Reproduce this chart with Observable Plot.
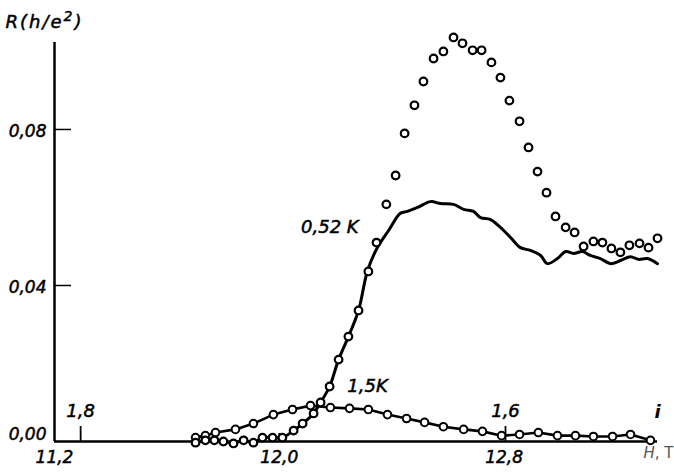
<!DOCTYPE html>
<html>
<head>
<meta charset="utf-8">
<script src="https://cdn.jsdelivr.net/npm/d3@7"></script>
<script src="https://cdn.jsdelivr.net/npm/@observablehq/plot@0.6"></script>
<style>
  html, body { margin: 0; padding: 0; background: #fff; }
  g.bold-ish text { stroke: #000; stroke-width: 0.5px; }
</style>
</head>
<body>
<div id="chart"></div>
<script>
// 0.52 K — open circles
const circlesLowH = [11.702,11.737,11.769,11.801,11.837,11.873,11.908,11.940,11.976,12.011,12.051,12.083,12.122,12.147,12.179,12.211,12.246,12.282,12.317,12.346,12.381,12.414,12.446,12.481,12.513,12.549,12.584,12.620,12.652,12.688,12.720,12.755,12.787,12.819,12.855,12.887,12.919,12.951,12.983,13.019,13.051,13.083,13.118,13.150,13.182,13.214,13.246,13.282,13.314,13.346];
const circlesLowR = [-0.0003,0.0003,0.0003,0.0000,-0.0005,0.0003,-0.0003,0.0010,0.0010,0.0010,0.0028,0.0046,0.0072,0.0100,0.0141,0.0210,0.0269,0.0336,0.0436,0.0510,0.0608,0.0682,0.0790,0.0862,0.0923,0.0982,0.1000,0.1036,0.1021,0.1003,0.1003,0.0972,0.0933,0.0874,0.0821,0.0754,0.0692,0.0638,0.0577,0.0549,0.0536,0.0500,0.0513,0.0510,0.0495,0.0485,0.0503,0.0508,0.0497,0.0521];

// 0.52 K — solid curve
const lineLowH = [11.702,11.737,11.769,11.801,11.837,11.873,11.908,11.940,11.976,12.011,12.051,12.083,12.122,12.147,12.179,12.211,12.246,12.282,12.314,12.349,12.389,12.431,12.456,12.492,12.538,12.574,12.620,12.656,12.691,12.716,12.752,12.787,12.823,12.858,12.894,12.930,12.954,12.990,13.019,13.047,13.079,13.107,13.143,13.179,13.214,13.250,13.278,13.310,13.346];
const lineLowR = [-0.0003,0.0003,0.0003,0.0000,-0.0005,0.0003,-0.0003,0.0010,0.0010,0.0010,0.0028,0.0046,0.0072,0.0100,0.0141,0.0210,0.0269,0.0336,0.0438,0.0497,0.0541,0.0585,0.0590,0.0600,0.0615,0.0610,0.0608,0.0595,0.0590,0.0574,0.0569,0.0549,0.0523,0.0497,0.0490,0.0477,0.0456,0.0469,0.0487,0.0482,0.0487,0.0477,0.0469,0.0456,0.0464,0.0474,0.0467,0.0469,0.0456];

// 1.5 K — circles joined by a line
const highH = [11.702,11.737,11.773,11.844,11.908,11.979,12.047,12.111,12.182,12.250,12.317,12.385,12.453,12.517,12.584,12.656,12.723,12.791,12.855,12.922,12.990,13.054,13.118,13.186,13.250,13.321];
const highR = [0.0010,0.0015,0.0023,0.0031,0.0046,0.0069,0.0082,0.0092,0.0087,0.0085,0.0082,0.0069,0.0059,0.0049,0.0038,0.0031,0.0026,0.0015,0.0018,0.0023,0.0015,0.0015,0.0013,0.0013,0.0018,0.0003];

// axis ticks
const xTicks = [11.2, 12.0, 12.8];
const yTicks = [0.04, 0.08];
const yZeroTick = [0];

// secondary scale marks along the H axis
const secondH = [11.293, 12.805];
const secondLabels = ["1,8", "1,6"];

// curve labels
const curveLabels = [
  {H: 12.180, R: 0.0549, text: "0,52 K"},
  {H: 12.314, R: 0.0141, text: "1,5K"}
];

const circles = circlesLowH.map((H, i) => ({H, R: circlesLowR[i]}));
const line052 = lineLowH.map((H, i) => ({H, R: lineLowR[i]}));
const line15 = highH.map((H, i) => ({H, R: highR[i]}));
const second = secondH.map((H, i) => ({H, label: secondLabels[i]}));

const fmtY = d => d.toFixed(2).replace(".", ",");
const fmtX = d => d.toFixed(1).replace(".", ",");

const font = "DejaVu Sans, sans-serif";
const bold = {className: "bold-ish"};

const chart = Plot.plot({
  width: 674,
  height: 474,
  marginLeft: 54,
  marginRight: 17,
  marginTop: 42,
  marginBottom: 33,
  style: {fontFamily: font, fontStyle: "italic", fontSize: "17px", color: "#000", background: "#fff"},
  x: {domain: [11.2, 13.346]},
  y: {domain: [0, 0.1023]},
  marks: [
    Plot.axisX(xTicks, {tickSize: 0, tickPadding: 9, tickFormat: fmtX, label: null, fontSize: 17, ...bold}),
    Plot.axisY(yTicks, {tickSize: 0, tickPadding: 8, tickFormat: fmtY, label: null, dy: 2, fontSize: 17, ...bold}),
    Plot.axisY(yZeroTick, {tickSize: 0, tickPadding: 8, tickFormat: fmtY, label: null, dy: -7, fontSize: 17, ...bold}),
    Plot.tickY(yTicks, {y: d => d, insetRight: 586, strokeWidth: 1.5}),
    Plot.tickX(secondH, {x: d => d, insetTop: 384, strokeWidth: 1.8}),
    Plot.tickX([12.0], {x: d => d, insetTop: 391, strokeWidth: 1.8}),
    Plot.ruleX([11.2], {strokeWidth: 2.5}),
    Plot.ruleY([0], {strokeWidth: 2.5}),
    Plot.line(line15, {x: "H", y: "R", strokeWidth: 2.6, curve: "linear"}),
    Plot.line(line052, {x: "H", y: "R", strokeWidth: 3, curve: "catmull-rom"}),
    Plot.dot(line15, {x: "H", y: "R", r: 3.8, stroke: "#000", strokeWidth: 2, fill: "#fff"}),
    Plot.dot(circles, {x: "H", y: "R", r: 3.8, stroke: "#000", strokeWidth: 2.2, fill: "#fff"}),
    Plot.text(curveLabels, {x: "H", y: "R", text: "text", fontSize: 18, textAnchor: "middle", ...bold}),
    Plot.text(second, {x: "H", text: "label", frameAnchor: "bottom", dy: -30, fontSize: 18, lineAnchor: "middle", ...bold}),
    Plot.text(["i"], {frameAnchor: "bottom-right", dx: 0, dy: -29, fontSize: 18, fontWeight: "bold", lineAnchor: "middle", textAnchor: "middle"}),
    Plot.text(["R(h/e2)"], {frameAnchor: "top-left", dx: -49, dy: -20, fontSize: 18, textAnchor: "start", lineAnchor: "middle", className: "rlabel"}),
    Plot.text(["H, T"], {frameAnchor: "bottom-right", dx: 16, dy: 12, fontSize: 15, textAnchor: "end", lineAnchor: "middle", fill: "#555", className: "hlabel"})
  ]
});
document.getElementById("chart").appendChild(chart);

// R(h/e²) with a raised exponent
d3.select(chart).selectAll("g.rlabel text").each(function() {
  const t = d3.select(this);
  t.text(null).attr("letter-spacing", 2).style("stroke", "#000").style("stroke-width", "0.5px");
  t.append("tspan").text("R(h/e");
  t.append("tspan").text("2").attr("dy", -7).attr("font-size", 14);
  t.append("tspan").text(")").attr("dy", 7);
});
// H italic, T upright
d3.select(chart).selectAll("g.hlabel text").each(function() {
  const t = d3.select(this);
  t.text(null);
  t.append("tspan").text("H");
  t.append("tspan").text(", T").attr("font-style", "normal");
});
</script>
</body>
</html>
